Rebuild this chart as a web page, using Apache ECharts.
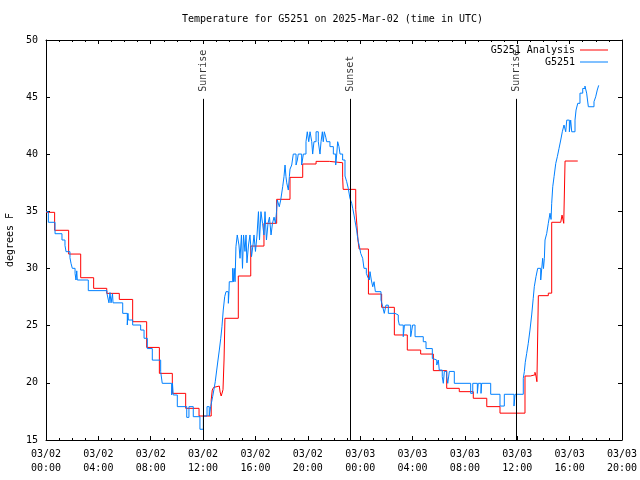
<!DOCTYPE html>
<html>
<head>
<meta charset="utf-8">
<script src="https://cdn.jsdelivr.net/npm/echarts@6/dist/echarts.min.js"></script>
<style>html,body{margin:0;padding:0;background:#fff}#c{width:640px;height:480px}</style>
</head>
<body>
<div id="c"></div>
<script>
// x values are hours since 03/02 00:00 UTC
var xTickLabels = ['03/02\n00:00','03/02\n04:00','03/02\n08:00','03/02\n12:00','03/02\n16:00','03/02\n20:00',
                   '03/03\n00:00','03/03\n04:00','03/03\n08:00','03/03\n12:00','03/03\n16:00','03/03\n20:00'];
var yTicks = [15, 20, 25, 30, 35, 40, 45, 50];

var analysisSeries = [
 [0,34.92],[0.66,33.35],[1.73,31.27],[2.65,29.2],[3.64,28.27],[4.64,27.83],[5.6,27.3],[6.62,25.35],
 [7.69,23.1],[8.66,20.83],[9.65,19.08],[10.67,17.77],[11.69,17.1],[12.62,18.5],[12.70,19.37],[12.8,19.6],
 [12.91,19.72],[13.24,19.6],[13.3,19.2],[13.38,18.85],[13.45,19.1],[13.52,19.4],[13.6,22.0],[13.67,25.65],
 [14.69,29.35],[15.64,31.97],[16.65,33.96],[17.62,36.06],[18.64,37.98],[19.61,39.15],[20.63,39.38],
 [21.64,39.26],[22.66,38.0],[22.7,36.93],[23.66,35.17],[23.75,33.8],[23.83,32.5],[23.92,31.71],
 [24.63,27.77],[25.64,26.61],[26.61,24.19],[27.6,22.87],[28.62,22.52],[29.59,21.07],[30.61,19.52],
 [31.57,19.23],[32.64,18.65],[33.67,17.92],[34.68,17.35],[36.59,20.6],[37.0,20.7],[37.35,20.92],
 [37.43,20.6],[37.5,20.1],[37.55,19.97],[37.61,27.63],[38.37,27.85],[38.63,34.05],[39.32,34.2],
 [39.42,34.68],[39.55,33.96],[39.65,39.41],[40.62,39.41]
];

var stationSeries = [
 [0,34.98],[0.18,34.05],[0.69,33.05],[1.22,32.5],[1.45,32.03],[1.53,31.48],[1.83,30.95],[1.91,30.46],
 [2.01,30.02],[2.22,29.58],[2.29,29.0],[2.35,29.8],[2.39,29.0],[3.23,28.07],[4.66,27.8],[4.81,27.0],
 [4.89,27.9],[4.97,27.0],[5.08,27.8],[5.12,27.0],[5.86,26.08],[6.21,25.06],[6.26,26.08],[6.29,25.5],
 [6.62,25.06],[7.23,24.62],[7.49,23.9],[7.74,23.0],[8.12,21.99],[8.76,20.98],[8.88,19.96],[9.60,18.94],
 [9.66,19.96],[9.72,18.94],[10.03,17.92],[10.75,16.98],[10.92,17.92],[11.25,17.04],[11.76,15.94],
 [12.02,17.1],[12.30,17.92],[12.47,17.1],[12.58,17.92],[12.73,18.79],[12.83,19.43],[12.93,20.1],
 [13.04,21.12],[13.14,22.0],[13.24,22.87],[13.35,23.9],[13.44,24.91],[13.54,26.37],[13.65,27.54],
 [13.75,27.98],[13.93,26.96],[13.98,27.98],[14.00,28.85],[14.26,30.02],[14.32,28.85],[14.38,30.02],
 [14.44,28.85],[14.51,31.91],[14.61,32.94],[14.74,32.06],[14.82,30.9],[14.93,32.94],[15.01,30.02],
 [15.09,32.94],[15.20,31.5],[15.28,32.94],[15.35,30.5],[15.47,32.06],[15.58,32.94],[15.70,31.04],
 [15.81,32.06],[15.89,32.94],[16.00,31.5],[16.12,32.94],[16.23,34.98],[16.31,32.5],[16.42,34.98],
 [16.54,33.96],[16.65,32.94],[16.73,34.98],[16.84,32.5],[16.96,33.96],[17.07,34.5],[17.19,32.94],
 [17.30,33.96],[17.42,34.5],[17.53,33.96],[17.61,34.98],[17.67,36.0],[17.82,35.41],[17.93,36.0],
 [18.08,37.16],[18.18,38.04],[18.26,39.06],[18.33,38.04],[18.39,37.5],[18.51,36.87],[18.59,38.04],
 [18.64,38.7],[18.77,39.06],[18.89,40.02],[19.10,39.06],[19.20,39.5],[19.27,40.02],[19.53,39.06],
 [19.66,40.02],[19.86,41.1],[19.96,41.97],[20.07,41.1],[20.17,41.97],[20.30,41.1],[20.37,40.02],
 [20.47,41.1],[20.63,41.97],[20.80,41.1],[20.93,40.02],[21.01,41.1],[21.11,41.97],[21.18,41.1],
 [21.26,41.97],[21.37,41.5],[21.44,41.1],[21.69,40.67],[21.95,40.02],[22.13,39.06],[22.21,40.02],
 [22.28,41.1],[22.38,40.67],[22.46,40.02],[22.66,39.5],[22.84,38.1],[22.97,37.6],[23.09,37.02],
 [23.22,36.14],[23.35,35.71],[23.43,35.27],[23.53,34.68],[23.60,34.2],[23.73,33.37],[23.78,32.9],
 [23.86,32.35],[23.93,32.0],[24.04,31.33],[24.19,30.9],[24.29,30.02],[24.47,29.58],[24.60,29.2],
 [24.70,29.0],[24.75,29.73],[24.85,29.0],[24.96,28.41],[25.06,28.85],[25.16,27.98],[25.59,27.25],
 [25.72,26.66],[25.84,26.08],[25.97,26.8],[26.15,26.08],[26.66,25.94],[26.91,25.5],[26.99,25.06],
 [27.29,24.04],[27.38,25.06],[27.86,24.04],[27.94,24.6],[28.01,25.06],[28.19,24.04],[28.82,23.6],
 [29.03,23.0],[29.51,22.14],[29.59,22.0],[29.85,21.56],[29.97,22.0],[30.04,21.12],[30.27,20.54],
 [30.35,19.96],[30.43,21.0],[30.61,20.54],[30.69,19.96],[30.81,21.0],[31.19,19.96],[32.44,19.08],
 [32.60,19.96],[32.95,19.08],[33.02,19.96],[33.23,19.08],[33.28,19.96],[33.97,19.0],[34.68,17.97],
 [35.01,19.0],[35.75,17.97],[35.83,19.0],[36.46,20.4],[36.54,20.98],[36.61,21.8],[36.72,22.58],
 [36.84,23.46],[36.97,24.62],[37.10,25.94],[37.22,27.4],[37.30,28.41],[37.43,29.29],[37.56,30.02],
 [37.79,29.0],[37.87,30.02],[37.94,30.9],[38.00,30.0],[38.07,30.9],[38.12,32.5],[38.25,33.08],
 [38.37,33.96],[38.50,34.84],[38.58,34.3],[38.63,35.71],[38.71,37.16],[38.81,38.04],[38.94,39.2],
 [39.06,39.79],[39.19,40.52],[39.32,41.25],[39.44,41.97],[39.57,42.56],[39.70,41.97],[39.78,42.99],
 [39.98,41.97],[40.08,42.99],[40.16,41.97],[40.41,42.99],[40.49,43.87],[40.62,44.46],[40.79,45.35],
 [41.0,45.76],[41.17,45.97],[41.30,45.35],[41.43,44.16],[41.86,44.6],[41.99,45.03],[42.11,45.62],
 [42.22,46.03]
];

var markerNames = ['Sunrise', 'Sunset', 'Sunrise'];
var markerTimes = [12.02, 23.25, 35.93];
var markerTop = 44.85;

var FONT = 'DejaVu Sans Mono';
var RED = '#ff0000', BLUE = '#0080ff';
var chart = echarts.init(document.getElementById('c'), null, {renderer: 'canvas'});

function axisCommon(showLabels) {
  return {
    axisLine: {show: true, onZero: false, lineStyle: {color: '#000', width: 1}},
    axisTick: {show: true, inside: true, length: 4, lineStyle: {color: '#000'}},
    splitLine: {show: false},
    axisLabel: {show: showLabels, color: '#000', fontFamily: FONT, fontSize: 10}
  };
}

var xBase = {type: 'value', min: 0, max: 44, interval: 4,
  minorTick: {show: true, splitNumber: 4, length: 2, lineStyle: {color: '#000'}}};
var yBase = {type: 'value', min: yTicks[0], max: yTicks[yTicks.length - 1], interval: 5};

var x0 = Object.assign({}, xBase, axisCommon(true), {position: 'bottom'});
x0.axisLabel = Object.assign(x0.axisLabel, {margin: 7, lineHeight: 14,
  formatter: function (v) { return xTickLabels[Math.round(v / 4)]; }});
var x1 = Object.assign({}, xBase, axisCommon(false), {position: 'top'});
var y0 = Object.assign({}, yBase, axisCommon(true), {position: 'left', name: 'degrees F',
  nameLocation: 'middle', nameGap: 30, nameRotate: 90,
  nameTextStyle: {color: '#000', fontFamily: FONT, fontSize: 10}});
y0.axisLabel.margin = 8;
var y1 = Object.assign({}, yBase, axisCommon(false), {position: 'right'});

var option = {
  animation: false,
  backgroundColor: '#fff',
  title: {text: 'Temperature for G5251 on 2025-Mar-02 (time in UTC)', left: 182, top: 14, padding: 0,
    textStyle: {color: '#000', fontFamily: FONT, fontSize: 10, fontWeight: 'normal'}},
  legend: {orient: 'vertical', right: 32, top: 44, padding: 0, align: 'right', itemWidth: 28, itemHeight: 1,
    itemGap: 0,
    data: [{name: 'G5251 Analysis', icon: 'rect', itemStyle: {color: RED}},
           {name: 'G5251', icon: 'rect', itemStyle: {color: BLUE}}],
    textStyle: {color: '#000', fontFamily: FONT, fontSize: 10, lineHeight: 12}},
  grid: {left: 46, right: 18, top: 40, bottom: 40, containLabel: false, outerBoundsMode: 'none'},
  xAxis: [x0, x1],
  yAxis: [y0, y1],
  series: [
    {name: 'G5251 Analysis', type: 'line', step: 'end', symbol: 'none', data: analysisSeries,
     xAxisIndex: 0, yAxisIndex: 0, color: RED, lineStyle: {color: RED, width: 1}},
    {name: 'G5251', type: 'line', step: 'end', symbol: 'none', data: stationSeries,
     xAxisIndex: 0, yAxisIndex: 0, color: BLUE, lineStyle: {color: BLUE, width: 1}},
    {name: 'markers', type: 'scatter', symbolSize: 0, xAxisIndex: 0, yAxisIndex: 0, silent: true,
     data: markerTimes.map(function (t, i) { return {value: [t, markerTop], name: markerNames[i]}; }),
     label: {show: true, position: 'top', distance: 7, rotate: 90, align: 'left', verticalAlign: 'middle',
       formatter: function (p) { return p.name; }, color: '#000', fontFamily: FONT, fontSize: 10},
     markLine: {silent: true, symbol: ['none', 'none'], label: {show: false},
       lineStyle: {color: '#000', width: 1, type: 'solid'},
       data: markerTimes.map(function (t) { return [{coord: [t, yTicks[0]]}, {coord: [t, markerTop]}]; })}}
  ]
};
chart.setOption(option);
</script>
</body>
</html>
